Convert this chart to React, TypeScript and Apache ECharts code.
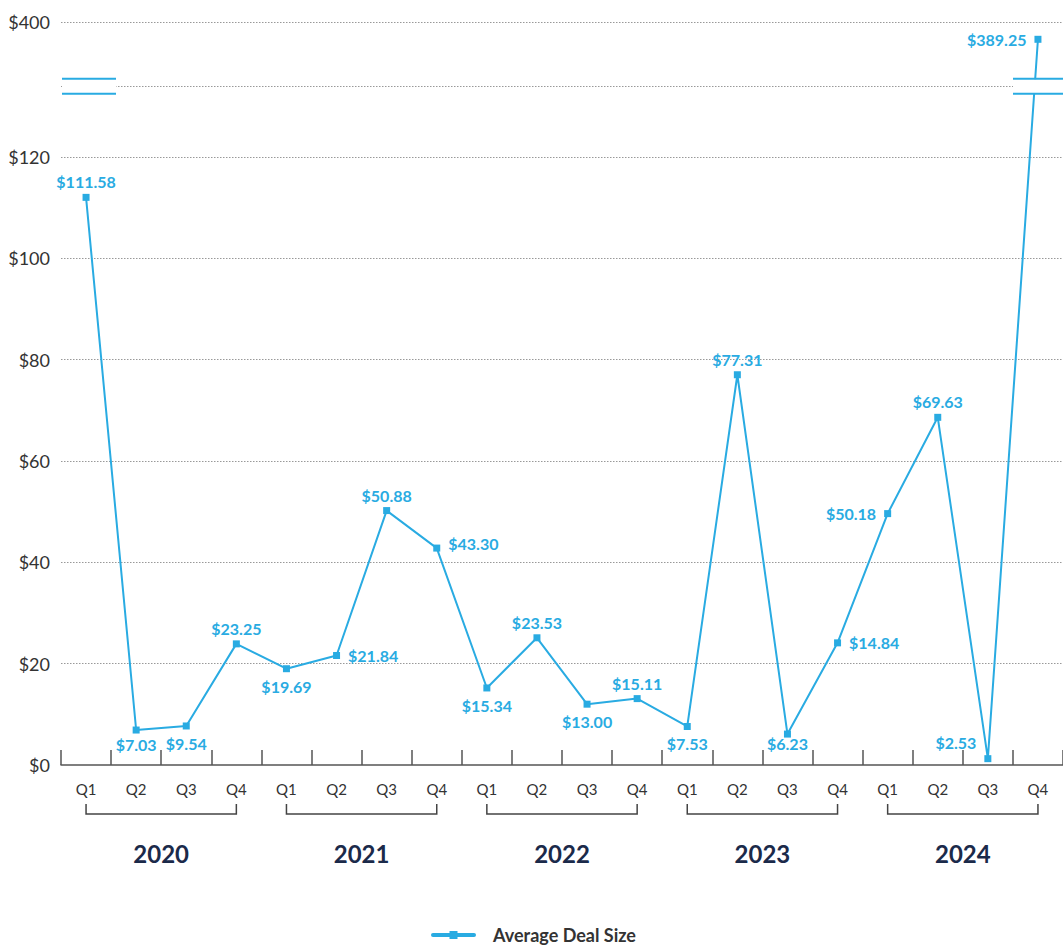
import React, { useEffect, useRef } from "react";
import * as echarts from "echarts";

// ---- data ----
const quarterLabels = [
  "Q1", "Q2", "Q3", "Q4",
  "Q1", "Q2", "Q3", "Q4",
  "Q1", "Q2", "Q3", "Q4",
  "Q1", "Q2", "Q3", "Q4",
  "Q1", "Q2", "Q3", "Q4",
];
const years = ["2020", "2021", "2022", "2023", "2024"];
// values printed on the chart
const dealSizeLabels = [
  111.58, 7.03, 9.54, 23.25, 19.69, 21.84, 50.88, 43.3, 15.34, 23.53,
  13.0, 15.11, 7.53, 77.31, 6.23, 14.84, 50.18, 69.63, 2.53, 389.25,
];
// heights at which the points are drawn in the reference
const dealSizePlotted = [
  112.0, 6.9, 7.7, 23.9, 19.0, 21.6, 50.2, 42.8, 15.2, 25.1,
  12.0, 13.1, 7.6, 77.0, 6.1, 24.1, 49.6, 68.6, 1.25, 389.25,
];
const yTickValues = [0, 20, 40, 60, 80, 100, 120, 400];
const gridValues = [20, 40, 60, 80, 100, 120, 360, 400];
const seriesName = "Average Deal Size";

// ---- label styling per point ----
const labelPos = [
  "top", "bottom", "bottom", "top", "bottom", "right", "top", "right", "bottom", "top",
  "bottom", "top", "bottom", "top", "bottom", "right", "left", "top", "left", "left",
];
const labelDy = [
  0, -3.5, 0, 0, 0, 0, 0, -5, 0, 0,
  0, 0, 0, 0, -8, 0, 0, 0, -16, 0,
];

// broken axis: values above the break are compressed into the top band
const BREAK_LOW = 360;
const BREAK_BASE = 133.9;
const UPPER_SCALE = 12.7 / 40;
const toAxis = (v: number) => (v <= 130 ? v : BREAK_BASE + (v - BREAK_LOW) * UPPER_SCALE);

const BLUE = "#29ABE2";

export default function App() {
  const ref = useRef<HTMLDivElement>(null);

  useEffect(() => {
    if (!ref.current) return;
    const chart = echarts.init(ref.current, null, { renderer: "svg" });

    const distFor = (p: string) => (p === "top" ? 4 : p === "bottom" ? 6 : 8);

    const option: any = {
      animation: false,
      textStyle: { fontFamily: "Lato" },
      grid: { left: 61, top: 22, width: 1007, height: 743 },
      legend: {
        data: [seriesName],
        left: 426,
        top: 921,
        itemWidth: 41,
        itemHeight: 10,
        lineStyle: { width: 4, cap: "round" },
        textStyle: { color: "#333", fontSize: 18, fontWeight: "bold", padding: [0, 0, 0, 14] },
      },
      xAxis: [
        {
          type: "category",
          data: quarterLabels,
          boundaryGap: true,
          axisLine: { lineStyle: { color: "#555", width: 1.5 } },
          axisTick: { show: true, inside: true, length: 15, interval: 0, lineStyle: { color: "#555", width: 1.5 } },
          axisLabel: { interval: 0, margin: 16, color: "#333", fontSize: 15 },
          splitLine: { show: false },
        },
        {
          type: "category",
          data: years,
          position: "bottom",
          gridIndex: 0,
          axisLine: { show: false },
          axisTick: { show: false },
          axisLabel: { interval: 0, margin: 76, color: "#1B2A4A", fontSize: 24, fontWeight: "bold" },
          splitLine: { show: false },
        },
      ],
      yAxis: {
        type: "value",
        min: 0,
        max: toAxis(400),
        axisLine: { show: false },
        axisTick: { show: false },
        splitLine: { show: false },
        axisLabel: {
          customValues: yTickValues.map(toAxis),
          color: "#333",
          fontSize: 18,
          margin: 11,
          formatter: (v: number) => {
            const t = yTickValues.find((tv) => Math.abs(toAxis(tv) - v) < 1e-6);
            return t === undefined ? "" : "$" + t;
          },
        },
      },
      series: [
        {
          name: seriesName,
          type: "line",
          xAxisIndex: 0,
          yAxisIndex: 0,
          data: dealSizePlotted.map((v, i) => ({
            value: toAxis(v),
            label: {
              position: labelPos[i],
              distance: distFor(labelPos[i]),
              offset: [0, labelDy[i]],
            },
          })),
          symbol: "rect",
          symbolSize: 7,
          lineStyle: { color: BLUE, width: 2 },
          itemStyle: { color: BLUE },
          label: {
            show: true,
            color: BLUE,
            fontSize: 16,
            fontWeight: "bold",
            formatter: (p: any) => "$" + dealSizeLabels[p.dataIndex].toFixed(2),
          },
          markLine: {
            silent: true,
            symbol: "none",
            z: 1,
            label: { show: false },
            lineStyle: { color: "#999", width: 1, type: [1.5, 1.5] },
            data: gridValues.map((v) => ({ yAxis: toAxis(v) })),
          },
          z: 3,
        },
      ],
    };

    chart.setOption(option);

    // brackets under each year and axis-break marks
    const xOf = (i: number) => chart.convertToPixel({ xAxisIndex: 0 }, i) as number;
    const breakY = chart.convertToPixel({ yAxisIndex: 0 }, toAxis(BREAK_LOW)) as number;
    const graphics: any[] = [];
    years.forEach((_, yi) => {
      const x0 = xOf(yi * 4);
      const x3 = xOf(yi * 4 + 3);
      graphics.push({
        type: "polyline",
        z: 100,
        shape: { points: [[x0, 804], [x0, 814], [x3, 814], [x3, 804]] },
        style: { stroke: "#444", lineWidth: 1.5, fill: null },
      });
    });
    const addBreak = (xa: number, xb: number) => {
      graphics.push({
        type: "rect",
        z: 100,
        shape: { x: xa, y: breakY - 7, width: xb - xa, height: 14 },
        style: { fill: "#fff" },
      });
      [breakY - 7.5, breakY + 7.5].forEach((yy) =>
        graphics.push({
          type: "line",
          z: 101,
          shape: { x1: xa, y1: yy, x2: xb, y2: yy },
          style: { stroke: BLUE, lineWidth: 2 },
        })
      );
    };
    addBreak(62, 116);
    addBreak(1013, 1063);
    chart.setOption({ graphic: graphics });

    return () => chart.dispose();
  }, []);

  return (
    <div
      ref={ref}
      style={{ position: "absolute", left: 0, top: 0, width: 1063, height: 949 }}
    />
  );
}
